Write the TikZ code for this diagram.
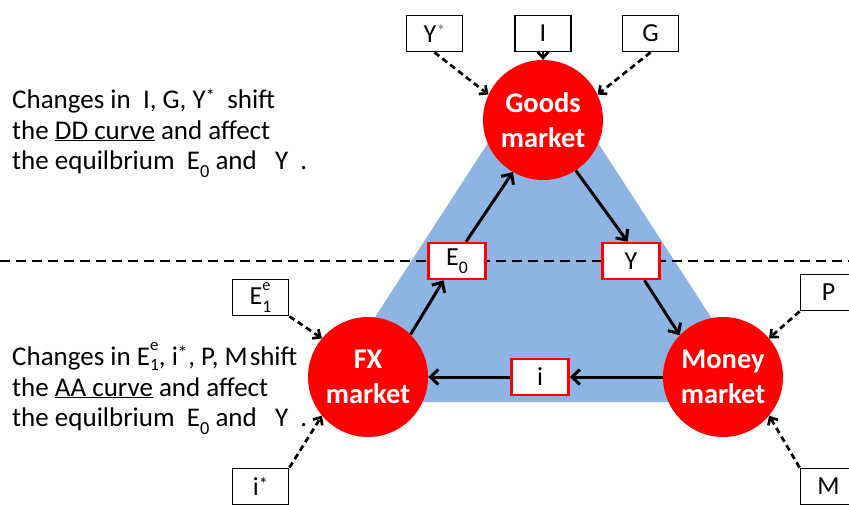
\documentclass[tikz,border=0pt]{standalone}
\usepackage{fontspec}
\setmainfont{Carlito}
\usetikzlibrary{arrows.meta}
\definecolor{tribl}{RGB}{141,180,226}
\newcommand\lsub[1]{\raisebox{-0.3em}{\scalebox{0.68}{#1}}}
\newcommand\usup[1]{\raisebox{0.55em}{\scalebox{0.62}{#1}}}
\newcommand\astr[1]{\raisebox{0.22em}{\scalebox{0.7}{#1}}}
\newcommand\Eeone{E\rlap{\usup{e}}\lsub{1}}
\newcommand\Eeonet{E\rlap{\usup{e}}\raisebox{-0.2em}{\scalebox{0.64}{1}}}
\begin{document}
\begin{tikzpicture}[x=1pt,y=-1pt,
 mkt/.style={circle,fill=red,minimum size=120pt,inner sep=0pt,text=white,font=\bfseries\fontsize{28.5}{35}\selectfont,align=center},
 rbox/.style={draw=red,line width=2.5pt,fill=white,minimum width=57pt,minimum height=36pt,inner sep=0pt,font=\fontsize{26}{28}\selectfont},
 kbox/.style={draw=black,line width=1.8pt,fill=white,minimum width=56pt,minimum height=36pt,inner sep=0pt,font=\fontsize{26}{28}\selectfont},
 flow/.style={line width=3pt,-{Straight Barb[length=8pt,width=15pt]}},
 ext/.style={line width=2.7pt,dash pattern=on 6pt off 4pt,-{Straight Barb[length=6pt,width=11pt]}},
 lbl/.style={anchor=base west,inner sep=0pt,font=\fontsize{27}{30}\selectfont}]
\useasboundingbox (0,0) rectangle (849,504);
\fill[tribl] (543,58) -- (320,402) -- (766,402) -- cycle;
\draw[line width=2.5pt,dash pattern=on 10pt off 6pt] (0,261) -- (849,261);
\node[mkt] (goods) at (543,120) {Goods\\market};
\node[mkt] (fx) at (368,377) {FX\\market};
\node[mkt] (money) at (723,377) {Money\\market};
\node[rbox] (e0) at (457,261) {E\lsub{0}};
\node[rbox] (yb) at (631,261) {Y};
\node[rbox] (ib) at (540,377) {i};
\node[kbox] (ystar) at (434.5,33.5) {Y\astr{\color{gray}*}};
\node[kbox] (ii) at (543,33.5) {I};
\node[kbox] (gg) at (650.5,33.5) {G};
\node[kbox] (e1e) at (260.5,297.5) {\Eeone};
\node[kbox] (pp) at (828.5,292.5) {P};
\node[kbox] (istar) at (260.5,486.5) {i\astr{*}};
\node[kbox] (mm) at (828.5,486.5) {M};
\draw[ext] (ystar.south) -- (goods.155);
\draw[line width=2.7pt,-{Straight Barb[length=6pt,width=11pt]}] (ii.south) -- (goods.north);
\draw[ext] (gg.south) -- (goods.25);
\draw[ext] (e1e.south east) -- (fx.140);
\draw[ext] (istar.north east) -- (fx.220);
\draw[ext] (pp.south west) -- (money.40);
\draw[ext] (mm.north west) -- (money.320);
\draw[flow] (fx.45) -- (e0.235);
\draw[flow] (e0.65) -- (goods.240);
\draw[flow] (goods.303) -- (yb.100);
\draw[flow] (yb.305) -- (money.136);
\draw[flow] (money.west) -- (ib.east);
\draw[flow] (ib.west) -- (fx.east);
\node[lbl] (t1) at (12,108) {Changes in \ I, G, Y\astr{*} \ shift};
\node[lbl] (t2) at (12,139) {the \underline{DD curve} and affect};
\node[lbl] (t3) at (12,169) {the equilbrium \ E\lsub{0} and \ \ Y \ .};
\node[lbl] (t4) at (12,365) {Changes in \Eeonet, i\astr{*}\kern1pt, P, M\kern2pt shift};
\node[lbl] (t5) at (12,396) {the \underline{AA curve} and affect};
\node[lbl] (t6) at (12,426) {the equilbrium \ E\lsub{0} and \ \ Y \ .};
\end{tikzpicture}
\end{document}
